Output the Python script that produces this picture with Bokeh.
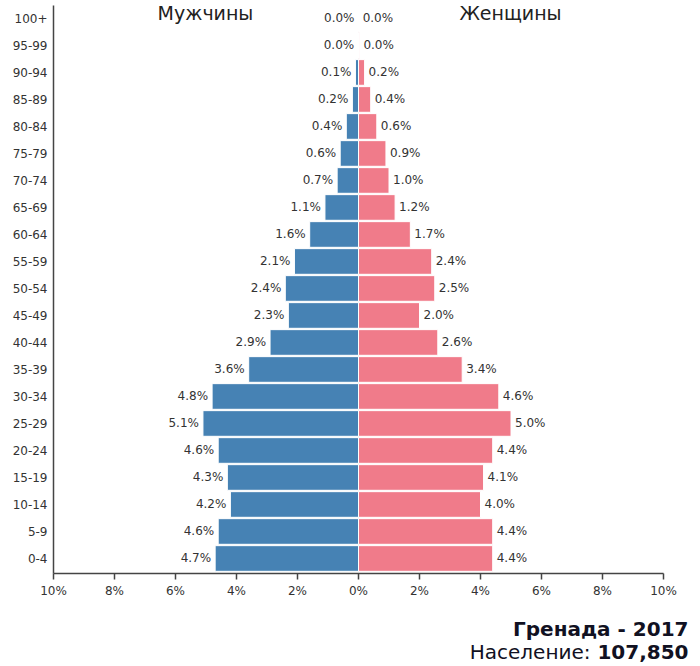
from bokeh.plotting import figure
from bokeh.models import ColumnDataSource, FixedTicker, Range1d, Label
from bokeh.layouts import column
from bokeh.core.properties import value
from bokeh.embed import file_html
from bokeh.resources import INLINE

ages = ["0-4", "5-9", "10-14", "15-19", "20-24", "25-29", "30-34", "35-39",
        "40-44", "45-49", "50-54", "55-59", "60-64", "65-69", "70-74", "75-79",
        "80-84", "85-89", "90-94", "95-99", "100+"]
male = [4.7, 4.6, 4.2, 4.3, 4.6, 5.1, 4.8, 3.6, 2.9, 2.3, 2.4, 2.1, 1.6, 1.1,
        0.7, 0.6, 0.4, 0.2, 0.1, 0.01, 0.0]
female = [4.4, 4.4, 4.0, 4.1, 4.4, 5.0, 4.6, 3.4, 2.6, 2.0, 2.5, 2.4, 1.7, 1.2,
          1.0, 0.9, 0.6, 0.4, 0.2, 0.03, 0.005]
x_ticks = [-10, -8, -6, -4, -2, 0, 2, 4, 6, 8, 10]
title_left = "Мужчины"
title_right = "Женщины"
country = "Гренада - 2017"
pop_label = "Население:"
pop_value = "107,850"

FONT = "DejaVu Sans"
MALE_C = "#4682b4"
FEMALE_C = "#f07b8a"

idx = list(range(len(ages)))
src = ColumnDataSource(dict(
    y=idx,
    male_neg=[-v for v in male],
    female=female,
    male_lbl=["%.1f%%" % v for v in male],
    female_lbl=["%.1f%%" % v for v in female],
))

p = figure(frame_width=610, frame_height=568, output_backend="svg",
           toolbar_location=None, x_range=Range1d(-10, 10),
           y_range=Range1d(-0.556, 20.48),
           min_border_left=53, min_border_right=37, min_border_top=5,
           min_border_bottom=30)
p.outline_line_color = None
p.grid.visible = False
p.background_fill_color = "white"
p.border_fill_color = "white"

p.hbar(y="y", left="male_neg", right=0, height=0.95, source=src,
       fill_color=MALE_C, line_color="white", line_width=1)
p.hbar(y="y", left=0, right="female", height=0.95, source=src,
       fill_color=FEMALE_C, line_color="white", line_width=1)

p.text(x="male_neg", y="y", text="male_lbl", source=src, x_offset=-4,
       text_align="right", text_baseline="middle", text_font=value(FONT),
       text_font_size="12px", text_color="#333333")
p.text(x="female", y="y", text="female_lbl", source=src, x_offset=4,
       text_align="left", text_baseline="middle", text_font=value(FONT),
       text_font_size="12px", text_color="#333333")

# axes
xa = p.xaxis[0]
xa.ticker = FixedTicker(ticks=x_ticks)
xa.major_label_overrides = {t: "%d%%" % abs(t) for t in x_ticks}
xa.major_tick_in = 0
xa.major_tick_out = 6
xa.minor_tick_in = 0
xa.minor_tick_out = 0
xa.axis_line_color = "#444444"
xa.axis_line_width = 1.5
xa.major_tick_line_color = "#444444"
xa.major_tick_line_width = 1.5
xa.major_label_text_font = FONT
xa.major_label_text_font_size = "12px"
xa.major_label_text_color = "#333333"
xa.major_label_standoff = 4

ya = p.yaxis[0]
ya.ticker = FixedTicker(ticks=idx)
ya.major_label_overrides = {i: a for i, a in enumerate(ages)}
ya.major_tick_in = 0
ya.major_tick_out = 0
ya.minor_tick_in = 0
ya.minor_tick_out = 0
ya.axis_line_color = "#444444"
ya.axis_line_width = 1.5
ya.major_label_text_font = FONT
ya.major_label_text_font_size = "12px"
ya.major_label_text_color = "#333333"
ya.major_label_standoff = 6

# titles
for txt, sx in ((title_left, 152), (title_right, 457)):
    p.add_layout(Label(x=sx, y=561, x_units="screen", y_units="screen",
                       text=txt, text_align="center", text_baseline="middle",
                       text_font=FONT, text_font_size="19px",
                       text_color="#222222"))

# footer panel (x in page pixels: frame spans 53..700)
f = figure(frame_width=647, frame_height=63, output_backend="svg",
           toolbar_location=None, x_range=Range1d(53, 700),
           y_range=Range1d(63, 0), min_border_left=53, min_border_right=0,
           min_border_top=0, min_border_bottom=0)
f.axis.visible = False
f.grid.visible = False
f.outline_line_color = None
f.border_fill_color = "white"
f.add_layout(Label(x=688, y=25, text=country, text_align="right",
                   text_baseline="middle", text_font=FONT,
                   text_font_size="20px", text_font_style="bold",
                   text_color="#111122"))
f.add_layout(Label(x=688, y=48, text=pop_value, text_align="right",
                   text_baseline="middle", text_font=FONT,
                   text_font_size="20px", text_font_style="bold",
                   text_color="#111122"))
f.add_layout(Label(x=590, y=48, text=pop_label, text_align="right",
                   text_baseline="middle", text_font=FONT,
                   text_font_size="20px", text_color="#111122"))

open("out.html", "w").write(file_html(column(p, f, spacing=0), INLINE))
